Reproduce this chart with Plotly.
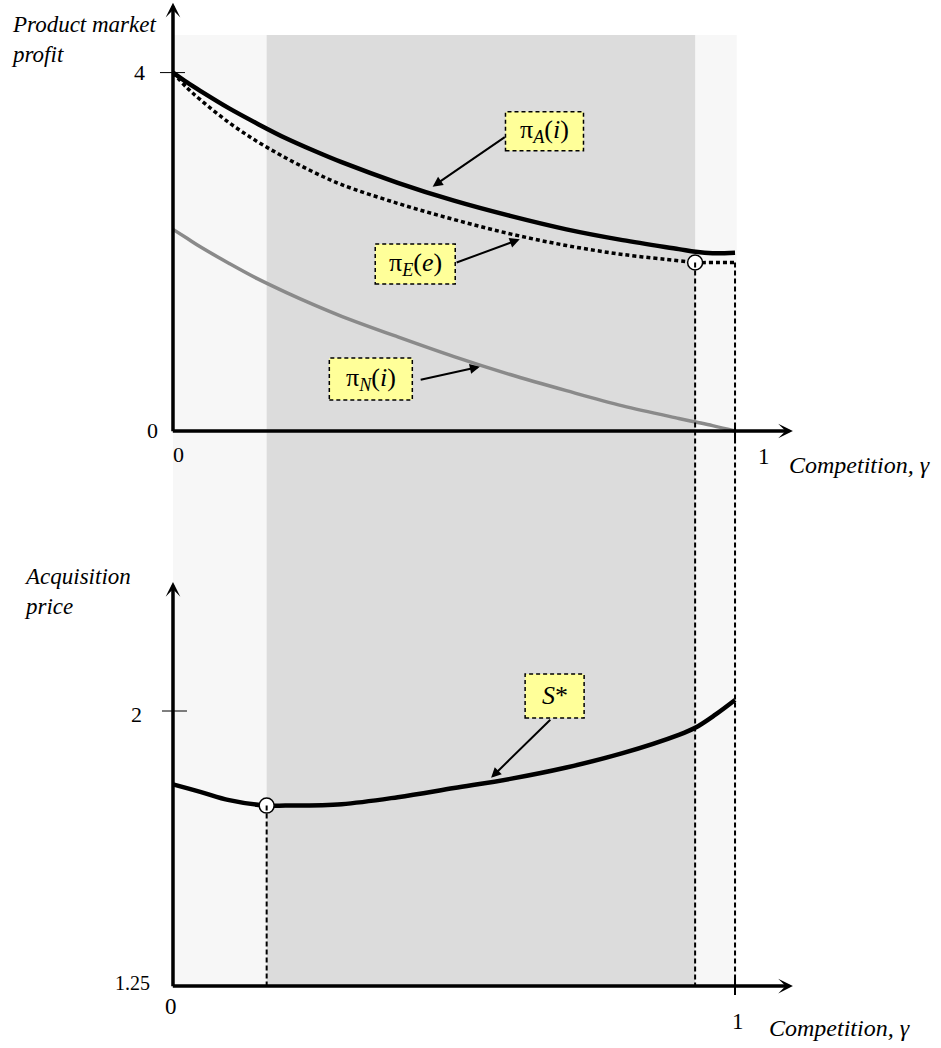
import plotly.graph_objects as go

# ---------------- data ----------------
gamma = [0.0, 0.025, 0.05, 0.1, 0.15, 0.2, 0.25, 0.3, 0.4, 0.5, 0.6, 0.7, 0.8, 0.9, 0.93, 0.96, 1.0]
pi_A = [4.00, 3.89, 3.79, 3.60, 3.43, 3.27, 3.13, 3.00, 2.77, 2.57, 2.40, 2.25, 2.13, 2.03, 2.00, 1.985, 1.99]
pi_E = [4.00, 3.83, 3.69, 3.44, 3.23, 3.05, 2.89, 2.75, 2.54, 2.36, 2.20, 2.07, 1.97, 1.90, 1.88, 1.88, 1.88]
pi_N = [2.25, 2.15, 2.05, 1.87, 1.70, 1.55, 1.41, 1.28, 1.05, 0.83, 0.63, 0.45, 0.28, 0.14, 0.10, 0.06, 0.00]

gamma_S = [0.0, 0.05, 0.1, 1 / 6, 0.2, 0.3, 0.4, 0.5, 0.6, 0.7, 0.8, 0.9, 0.93, 0.965, 1.0]
S_star = [1.800, 1.779, 1.757, 1.742, 1.742, 1.746, 1.765, 1.790, 1.815, 1.846, 1.885, 1.935, 1.955, 1.99, 2.03]

# thresholds / highlighted points
gamma_lo = 1 / 6
gamma_hi = 0.929
pi_E_hi = 1.88
S_min = 1.742

top_ticks = [0, 4]
bot_ticks = [1.25, 2]
x_ticks = [0, 1]

# ---------------- scales ----------------
X_RANGE = [-0.3078, 1.3665]
Y_TOP = [-6.886, 4.810]      # product-market-profit axis
Y_BOT = [1.081, 3.939]       # acquisition-price axis (overlaid)


def bot_to_top(v):
    f = (v - Y_BOT[0]) / (Y_BOT[1] - Y_BOT[0])
    return Y_TOP[0] + f * (Y_TOP[1] - Y_TOP[0])


SERIF = "Liberation Serif"
base_bot = bot_to_top(bot_ticks[0])

fig = go.Figure()

fig.add_trace(go.Scatter(x=gamma, y=pi_N, mode="lines", line=dict(color="#8a8a8a", width=3.5, shape="spline"),
                         hoverinfo="skip"))
fig.add_trace(go.Scatter(x=gamma, y=pi_E, mode="lines", line=dict(color="black", width=3.5, dash="4px,3px", shape="spline"),
                         hoverinfo="skip"))
fig.add_trace(go.Scatter(x=gamma, y=pi_A, mode="lines", line=dict(color="black", width=4.5, shape="spline"),
                         hoverinfo="skip"))
fig.add_trace(go.Scatter(x=gamma_S, y=S_star, mode="lines", yaxis="y2",
                         line=dict(color="black", width=4.5, shape="spline"), hoverinfo="skip"))
fig.add_trace(go.Scatter(x=[gamma_hi], y=[pi_E_hi], mode="markers",
                         marker=dict(size=15, color="white", line=dict(color="black", width=1.5)), hoverinfo="skip"))
fig.add_trace(go.Scatter(x=[gamma_lo], y=[S_min], mode="markers", yaxis="y2",
                         marker=dict(size=15, color="white", line=dict(color="black", width=1.5)), hoverinfo="skip"))

shapes = []
# shaded regions
shapes.append(dict(type="rect", xref="x", yref="y", x0=0, x1=1.003, y0=base_bot, y1=4.42,
                   fillcolor="#f7f7f7", line=dict(width=0), layer="below"))
shapes.append(dict(type="rect", xref="x", yref="y", x0=gamma_lo, x1=gamma_hi, y0=base_bot, y1=4.42,
                   fillcolor="#dcdcdc", line=dict(width=0), layer="below"))
# dashed guide lines
dash_line = dict(color="black", width=2, dash="5px,3px")
shapes.append(dict(type="line", xref="x", yref="y", x0=gamma_hi, x1=gamma_hi, y0=pi_E_hi, y1=base_bot, line=dash_line))
shapes.append(dict(type="line", xref="x", yref="y", x0=1, x1=1, y0=pi_E[-1], y1=base_bot, line=dash_line))
shapes.append(dict(type="line", xref="x", yref="y2", x0=gamma_lo, x1=gamma_lo, y0=S_min, y1=bot_ticks[0], line=dash_line))
# tick marks
shapes.append(dict(type="line", xref="x", yref="y", xsizemode="pixel", xanchor=0, x0=-13, x1=12,
                   y0=top_ticks[1], y1=top_ticks[1], line=dict(color="black", width=1)))
shapes.append(dict(type="line", xref="x", yref="y2", xsizemode="pixel", xanchor=0, x0=-11, x1=14,
                   y0=bot_ticks[1], y1=bot_ticks[1], line=dict(color="black", width=1)))
shapes.append(dict(type="line", xref="x", yref="y", ysizemode="pixel", yanchor=0, y0=-8, y1=8,
                   x0=x_ticks[1], x1=x_ticks[1], line=dict(color="black", width=2)))
shapes.append(dict(type="line", xref="x", yref="y2", ysizemode="pixel", yanchor=bot_ticks[0], y0=-9, y1=9,
                   x0=x_ticks[1], x1=x_ticks[1], line=dict(color="black", width=2)))

annotations = []


def axis_arrow(x, y, ax, ay, yref):
    return dict(x=x, y=y, ax=ax, ay=ay, xref="x", yref=yref, axref="x", ayref=yref, text="",
                showarrow=True, arrowhead=3, arrowsize=0.7, arrowwidth=3.5, arrowcolor="black", standoff=0)


annotations.append(axis_arrow(0, 4.78, 0, -0.02, "y"))
annotations.append(axis_arrow(1.103, 0, -0.003, 0, "y"))
annotations.append(axis_arrow(0, 2.352, 0, bot_ticks[0] - 0.005, "y2"))
annotations.append(axis_arrow(1.103, bot_ticks[0], -0.003, bot_ticks[0], "y2"))


def txt(s, x, y, yref="y", xanchor="center", xshift=0, yshift=0, size=22):
    return dict(x=x, y=y, xref="x", yref=yref, text=s, showarrow=False, xanchor=xanchor, yanchor="middle",
                xshift=xshift, yshift=yshift, font=dict(family=SERIF, size=size, color="black"))


# tick labels
annotations.append(txt("4", 0, top_ticks[1], xanchor="right", xshift=-26))
annotations.append(txt("0", 0, top_ticks[0], xanchor="right", xshift=-13))
annotations.append(txt("0", x_ticks[0], 0, xshift=5.5, yshift=-23.5))
annotations.append(txt("1", x_ticks[1], 0, xshift=29, yshift=-26, size=23))
annotations.append(txt("<i>Competition, γ</i>", x_ticks[1], 0, xanchor="left", xshift=52, yshift=-34, size=24))
annotations.append(txt("2", 0, bot_ticks[1], yref="y2", xanchor="right", xshift=-29, yshift=-3))
annotations.append(txt("1.25", 0, bot_ticks[0], yref="y2", xanchor="right", xshift=-21, yshift=3, size=20))
annotations.append(txt("0", x_ticks[0], bot_ticks[0], yref="y2", xshift=-1.5, yshift=-20.5, size=23))
annotations.append(txt("1", x_ticks[1], bot_ticks[0], yref="y2", xshift=2.5, yshift=-35, size=23))
annotations.append(txt("<i>Competition, γ</i>", x_ticks[1], bot_ticks[0], yref="y2", xanchor="left", xshift=32,
                       yshift=-42, size=24))

# axis titles
annotations.append(dict(x=9 / 941, y=1 - 10 / 1048, xref="paper", yref="paper", xanchor="left", yanchor="top",
                        align="left", showarrow=False, text="<i>Product market<br>profit</i>",
                        font=dict(family=SERIF, size=23, color="black")))
annotations.append(dict(x=22 / 941, y=1 - 562 / 1048, xref="paper", yref="paper", xanchor="left", yanchor="top",
                        align="left", showarrow=False, text="<i>Acquisition<br>price</i>",
                        font=dict(family=SERIF, size=23, color="black")))

# curve labels: (text, center x, center y, yref, box w, box h, arrow tail x, tail y, head x, head y)
labels = [
    ("π<sub><i>A</i></sub>(<i>i</i>)", 0.661, 3.346, "y", 78, 39, 0.593, 3.291, 0.462, 2.727),
    ("π<sub><i>E</i></sub>(<i>e</i>)", 0.431, 1.864, "y", 80, 40, 0.502, 1.874, 0.617, 2.14),
    ("π<sub><i>N</i></sub>(<i>i</i>)", 0.352, 0.580, "y", 83, 42, 0.438, 0.569, 0.546, 0.718),
    ("<i>S</i>*", 0.679, 2.041, "y2", 59, 44, 0.674, 1.980, 0.566, 1.818),
]
for s, cx, cy, yr, w, h, tx, ty, hx, hy in labels:
    shapes.append(dict(type="rect", xref="x", yref=yr, xsizemode="pixel", ysizemode="pixel", xanchor=cx, yanchor=cy,
                       x0=-w / 2, x1=w / 2, y0=-h / 2, y1=h / 2, fillcolor="#ffff99",
                       line=dict(color="black", width=1.5, dash="4px,3px")))
    annotations.append(dict(x=cx, y=cy, xref="x", yref=yr, text=s, showarrow=False,
                            font=dict(family=SERIF, size=26, color="black")))
    annotations.append(dict(x=hx, y=hy, ax=tx, ay=ty, xref="x", yref=yr, axref="x", ayref=yr, text="",
                            showarrow=True, arrowhead=2, arrowsize=1, arrowwidth=2, arrowcolor="black", standoff=0))

fig.update_layout(
    width=941, height=1048, margin=dict(l=0, r=0, t=0, b=0),
    paper_bgcolor="white", plot_bgcolor="white", showlegend=False,
    xaxis=dict(range=X_RANGE, visible=False, fixedrange=True),
    yaxis=dict(range=Y_TOP, visible=False, fixedrange=True),
    yaxis2=dict(range=Y_BOT, visible=False, overlaying="y", fixedrange=True),
    shapes=shapes, annotations=annotations,
)

fig.write_html("out.html", config={"displayModeBar": False},
               post_script="document.body.style.margin='0';document.body.style.overflow='hidden';")
